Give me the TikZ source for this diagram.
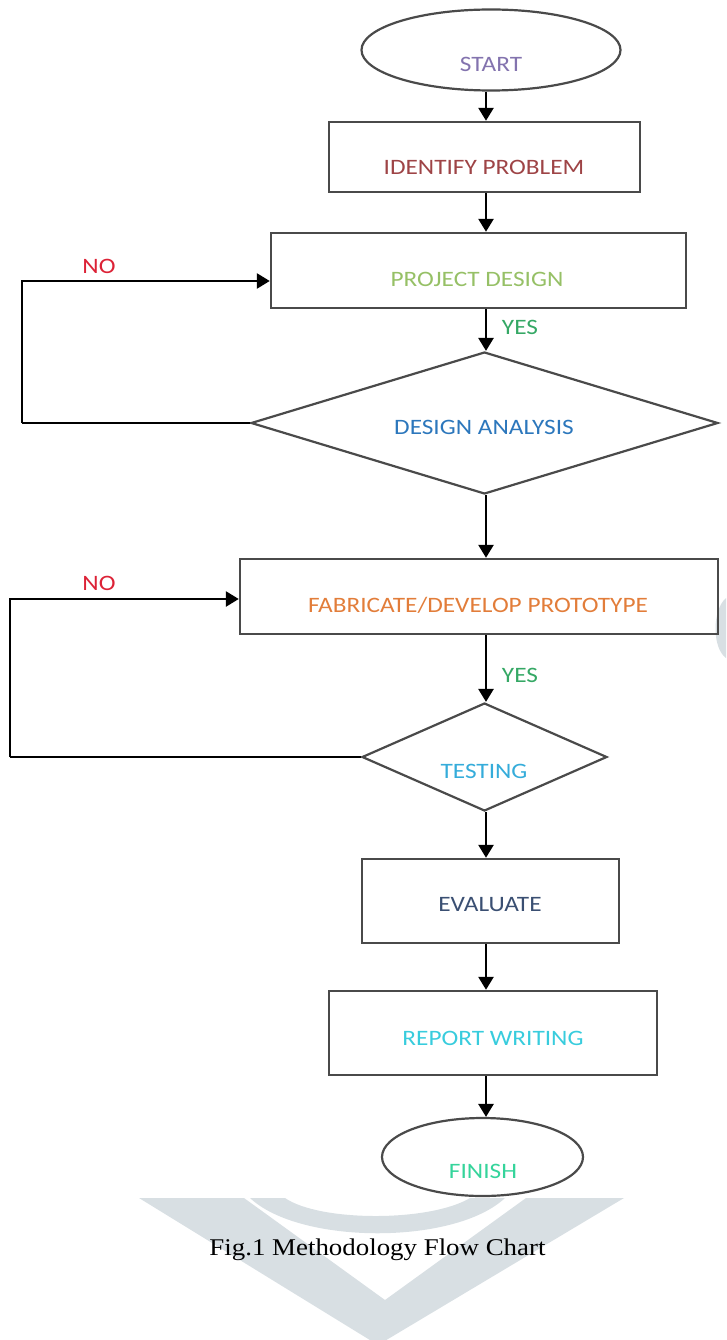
\documentclass[tikz,border=0pt]{standalone}
\usepackage{fontspec}
\setmainfont{Carlito}[FakeStretch=1.15]
\newfontfamily\capfont{Liberation Serif}[FakeStretch=1.12]
\usetikzlibrary{shapes.geometric,arrows.meta}
\definecolor{cstart}{HTML}{8373AE}
\definecolor{cident}{HTML}{9E4446}
\definecolor{cpd}{HTML}{96C066}
\definecolor{cyes}{HTML}{35A865}
\definecolor{cno}{HTML}{DC2236}
\definecolor{cda}{HTML}{2C77BC}
\definecolor{cfab}{HTML}{E27D3A}
\definecolor{ctest}{HTML}{35ACDA}
\definecolor{ceval}{HTML}{3A4F72}
\definecolor{crep}{HTML}{38CCDD}
\definecolor{cfin}{HTML}{35D49B}
\definecolor{wmark}{HTML}{D8DFE3}
\definecolor{bord}{HTML}{4A4A4A}
\tikzset{
  boxshape/.style={draw=bord, line width=2.4pt, rectangle, inner sep=0pt},
  ovalshape/.style={draw=bord, line width=2.2pt, ellipse, inner sep=0pt},
  decshape/.style={draw=bord, line width=2.2pt, diamond, inner sep=0pt},
  lbl/.style={font=\fontsize{22}{26}\selectfont, inner sep=0pt},
  arr/.style={draw=black, line width=2.6pt, -{Triangle[length=13pt,width=15pt]}},
  ln/.style={draw=black, line width=2.6pt},
}
\begin{document}
\begin{tikzpicture}[x=1pt,y=-1pt]
\useasboundingbox (0,0) rectangle (726,1340);
% watermark
\begin{scope}
\clip (0,1198) rectangle (726,1340);
\fill[wmark] (139,1198) -- (378,1345) -- (624,1198) -- (526,1198) -- (385,1300) -- (244,1198) -- cycle;
\fill[wmark] (250,1198) .. controls (300,1245) and (455,1245) .. (505,1198) -- (470,1198) .. controls (430,1222) and (320,1222) .. (285,1198) -- cycle;
\end{scope}
\fill[wmark] (726,598) .. controls (712,610) and (712,648) .. (726,658) -- cycle;

\coordinate (ax) at (486,0);
% shapes
\node[ovalshape, minimum width=259pt, minimum height=81pt] (start) at (491,50) {};
\node[boxshape, minimum width=311pt, minimum height=70pt] (ident) at (484.5,157) {};
\node[boxshape, minimum width=415pt, minimum height=75pt] (pd) at (478.5,270.5) {};
\node[decshape, minimum width=467pt, minimum height=142pt] (da) at (484.5,423) {};
\node[boxshape, minimum width=478pt, minimum height=75pt] (fab) at (479,596.5) {};
\node[decshape, minimum width=245pt, minimum height=108pt] (test) at (484.5,757) {};
\node[boxshape, minimum width=257pt, minimum height=84pt] (eval) at (490.5,901) {};
\node[boxshape, minimum width=328pt, minimum height=84pt] (rep) at (493,1033) {};
\node[ovalshape, minimum width=201pt, minimum height=78pt] (fin) at (482.5,1157) {};

% texts
\node[lbl, text=cstart] (tstart) at (491,64) {START};
\node[lbl, text=cident] (tident) at (484,167) {IDENTIFY PROBLEM};
\node[lbl, text=cpd] (tpd) at (477,279) {PROJECT DESIGN};
\node[lbl, text=cda] (tda) at (484,427) {DESIGN ANALYSIS};
\node[lbl, text=cfab] (tfab) at (478,605) {FABRICATE/DEVELOP PROTOTYPE};
\node[lbl, text=ctest] (ttest) at (484,771) {TESTING};
\node[lbl, text=ceval] (teval) at (490,905) {EVALUATE};
\node[lbl, text=crep] (trep) at (493,1038) {REPORT WRITING};
\node[lbl, text=cfin] (tfin) at (483,1171) {FINISH};
\node[lbl, text=cyes] (yes1) at (520,327) {YES};
\node[lbl, text=cyes] (yes2) at (520,675) {YES};
\node[lbl, text=cno] (no1) at (99,266) {NO};
\node[lbl, text=cno] (no2) at (99,583) {NO};

% connectors
\draw[arr] (start.south -| ax) -- (ident.north -| ax);
\draw[arr] (ident.south -| ax) -- (pd.north -| ax);
\draw[arr] (pd.south -| ax) -- (da.north -| ax);
\draw[arr] (da.south -| ax) -- (fab.north -| ax);
\draw[arr] (fab.south -| ax) -- (test.north -| ax);
\draw[arr] (test.south -| ax) -- (eval.north -| ax);
\draw[arr] (eval.south -| ax) -- (rep.north -| ax);
\draw[arr] (rep.south -| ax) -- (fin.north -| ax);

\coordinate (loopA) at (22,423);
\coordinate (loopB) at (10,757);
\draw[ln] (da.west) -- (loopA);
\draw[arr] (loopA) |- ([yshift=-10.5pt]pd.west);
\draw[ln] (test.west) -- (loopB);
\draw[arr] (loopB) |- ([yshift=-2.5pt]fab.west);

% caption
\node[inner sep=0pt, font=\capfont\fontsize{24}{28}\selectfont] (cap) at (377.5,1250) {Fig.1 Methodology Flow Chart};
\end{tikzpicture}
\end{document}
